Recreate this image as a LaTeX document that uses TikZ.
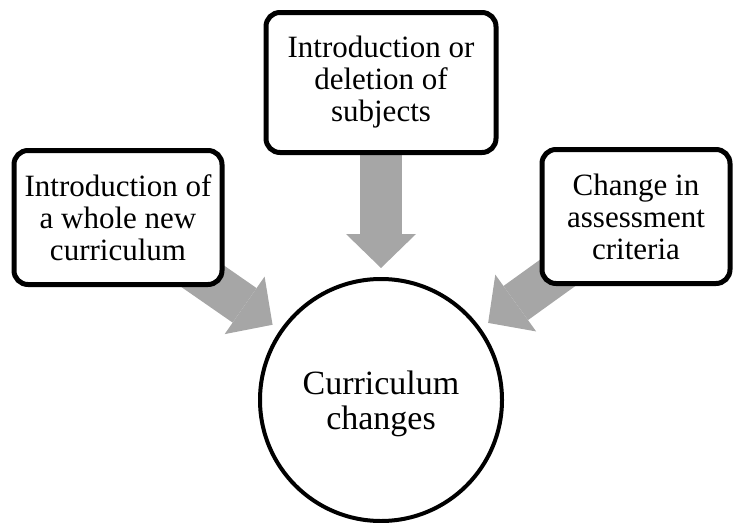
\documentclass[tikz,border=0pt]{standalone}
\usepackage{fontspec}
\setmainfont{Liberation Serif}
\usetikzlibrary{positioning,calc,backgrounds,arrows.meta}
\definecolor{arrowgray}{RGB}{166,166,166}

\begin{document}
\begin{tikzpicture}[
  x=1pt, y=-1pt,
  box/.style={rectangle, rounded corners=14pt, draw, line width=5pt, fill=white, minimum height=134pt, inner sep=0pt, align=center, font=\fontsize{31}{32}\selectfont},
  hubnode/.style={circle, draw, line width=4pt, fill=white, minimum size=242pt, inner sep=0pt, align=center, text depth=0pt, font=\fontsize{34}{35}\selectfont},
  flow/.style={draw=arrowgray, line width=42pt, -{Triangle[width=70pt, length=34pt, line width=0pt]}}
]
\useasboundingbox (0,0) rectangle (736,522);

% Centre
\node[hubnode] (hub) at (381,400) {Curriculum\\changes};

% Sources
\node[box, minimum width=230pt, minimum height=140pt] (top) [above=122pt of hub] {Introduction or\\deletion of\\subjects};
\node[box, minimum width=208pt] (left) [left=39pt of top, yshift=-135pt] {Introduction of\\a whole new\\curriculum};
\node[box, minimum width=188pt] (right) [right=41pt of top, yshift=-134pt] {Change in\\assessment\\criteria};

% Arrow tips
\coordinate (tiptop) at ($(hub)!132pt!(top.center)$);
\coordinate (tipleft) at ($(hub)!132pt!(left.center)$);
\coordinate (tipright) at ($(hub)!132pt!(right.center)$);

% Arrows
\begin{scope}[on background layer]
\draw[flow] (top.center) -- (tiptop);
\draw[flow] (left.center) -- (tipleft);
\draw[flow] (right.center) -- (tipright);
\end{scope}

\end{tikzpicture}
\end{document}
